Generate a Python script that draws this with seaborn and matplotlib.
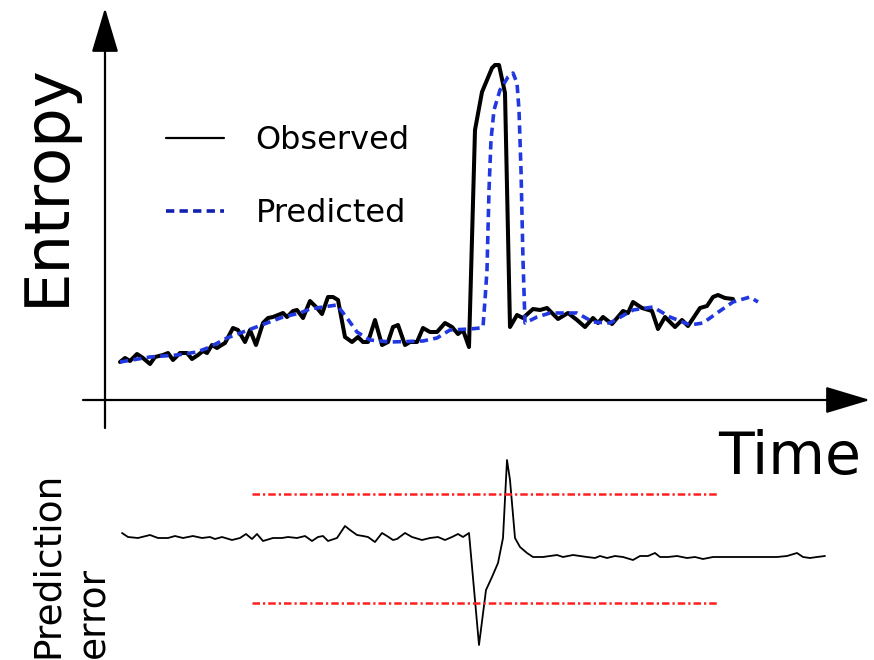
import matplotlib
matplotlib.use("Agg")
import matplotlib.pyplot as plt
import seaborn as sns

sns.set_style("white")
plt.rcParams["font.family"] = ["DejaVu Sans"]
plt.rcParams["text.color"] = "black"

# ---- data ----
# observed entropy
obs_t = [15, 20, 25, 32, 38, 45, 50, 58, 63, 68, 75, 82, 87, 93, 98, 102, 107, 112, 115, 120,
         128, 133, 140, 145, 151, 158, 163, 168, 173, 178, 182, 188, 192, 198, 205, 212, 217, 223, 228, 233,
         240, 247, 253, 258, 263, 270, 277, 283, 288, 293, 300, 305, 312, 318, 325, 332, 340, 347, 353, 358,
         364, 370, 377, 387, 390, 394, 400, 405, 412, 418, 428, 435, 442, 453, 463, 472, 480, 488, 493, 498,
         507, 518, 523, 528, 537, 547, 553, 560, 570, 577, 583, 595, 602, 608, 613, 620, 628]
obs_v = [0.38, 0.42, 0.39, 0.46, 0.42, 0.36, 0.43, 0.45, 0.47, 0.40, 0.47, 0.47, 0.41, 0.45, 0.49, 0.47, 0.55, 0.52, 0.54, 0.57,
         0.72, 0.70, 0.58, 0.70, 0.55, 0.77, 0.82, 0.83, 0.85, 0.87, 0.83, 0.89, 0.90, 0.82, 0.99, 0.92, 0.86, 1.03, 1.03, 1.00,
         0.63, 0.58, 0.63, 0.58, 0.58, 0.80, 0.55, 0.58, 0.73, 0.75, 0.55, 0.58, 0.58, 0.72, 0.68, 0.68, 0.77, 0.73, 0.66, 0.70,
         0.53, 2.70, 3.08, 3.32, 3.35, 3.35, 3.07, 0.73, 0.85, 0.82, 0.91, 0.90, 0.92, 0.81, 0.87, 0.80, 0.73, 0.82, 0.77, 0.83,
         0.76, 0.89, 0.87, 0.98, 0.92, 0.89, 0.71, 0.83, 0.73, 0.80, 0.74, 0.92, 0.94, 1.03, 1.05, 1.02, 1.01]

# predicted entropy
pred_t = [15, 45, 72, 92, 105, 122, 138, 162, 178, 195, 205, 218, 232, 242, 252, 265, 285, 318, 332, 345, 365, 375,
          378, 380, 382, 384, 386, 389, 395, 403, 408, 412, 414, 416, 418, 420,
          432, 445, 472, 488, 505, 528, 548, 565, 585, 598, 612, 628, 645, 653]
pred_v = [0.38, 0.43, 0.45, 0.48, 0.53, 0.62, 0.68, 0.77, 0.83, 0.87, 0.91, 0.93, 0.95, 0.82, 0.68, 0.60, 0.58, 0.59, 0.62, 0.70, 0.71, 0.72,
          0.73, 1.00, 1.30, 2.10, 2.60, 2.90, 3.10, 3.23, 3.27, 3.17, 2.90, 2.30, 1.40, 0.77,
          0.83, 0.87, 0.87, 0.78, 0.77, 0.90, 0.93, 0.83, 0.75, 0.77, 0.87, 0.98, 1.03, 0.98]

# prediction error
err_t = [17, 23, 33, 45, 53, 63, 70, 78, 88, 97, 105, 110, 117, 127, 135, 141, 147, 152, 158, 168,
         177, 183, 192, 200, 207, 213, 218, 223, 232, 240, 245, 252, 258, 263, 270, 277, 282, 288, 292, 300,
         307, 317, 325, 333, 340, 347, 353, 358, 364, 374, 381, 387, 393, 398, 402, 405, 410, 415, 422, 428,
         438, 452, 458, 468, 482, 490, 495, 502, 510, 518, 528, 535, 543, 550, 555, 563, 572, 582, 590, 598,
         608, 622, 642, 662, 672, 682, 692, 698, 705, 712, 720]
err_v = [0.15, 0.11, 0.10, 0.13, 0.10, 0.10, 0.12, 0.10, 0.12, 0.10, 0.11, 0.09, 0.11, 0.08, 0.10, 0.14, 0.09, 0.14, 0.07, 0.10,
         0.10, 0.11, 0.10, 0.12, 0.07, 0.11, 0.12, 0.07, 0.10, 0.22, 0.18, 0.13, 0.12, 0.11, 0.06, 0.15, 0.12, 0.08, 0.09, 0.15,
         0.11, 0.08, 0.10, 0.11, 0.08, 0.11, 0.14, 0.11, 0.15, -0.97, -0.42, -0.29, -0.15, 0.10, 0.88, 0.68, 0.10, 0.01, -0.05, -0.09,
         -0.09, -0.07, -0.09, -0.07, -0.09, -0.10, -0.08, -0.10, -0.08, -0.09, -0.12, -0.08, -0.08, -0.05, -0.09, -0.09, -0.08, -0.10, -0.09, -0.11,
         -0.09, -0.09, -0.09, -0.09, -0.09, -0.08, -0.05, -0.09, -0.10, -0.09, -0.08]

# error thresholds and the time span they cover
thresholds = [0.54, -0.55]
threshold_span = [147, 613]

labels = ["Observed", "Predicted"]

# ---- figure ----
W, H = 874, 660
fig = plt.figure(figsize=(W / 100, H / 100), dpi=100)
ax_top = fig.add_axes([83 / W, 232 / H, 787 / W, 420 / H])
ax_bot = fig.add_axes([83 / W, 0.0, 787 / W, 220 / H])

XLIM = (-22, 765)
TOP_YLIM = (-0.28, 3.92)
BOT_YLIM = (-1.12, 1.08)

blue = "#2138e0"

sns.lineplot(x=obs_t, y=obs_v, ax=ax_top, color="black", lw=2.9, sort=False,
             estimator=None, legend=False)
sns.lineplot(x=pred_t, y=pred_v, ax=ax_top, color=blue, lw=2.6, sort=False,
             estimator=None, legend=False, linestyle=(0, (2.3, 1.45)))

sns.lineplot(x=err_t, y=err_v, ax=ax_bot, color="black", lw=1.3, sort=False,
             estimator=None, legend=False)
ax_bot.hlines(thresholds, xmin=threshold_span[0], xmax=threshold_span[1],
              colors="#ff1f1f", lw=1.8, linestyles=[(0, (3.0, 1.2, 0.9, 1.2))])

for ax in (ax_top, ax_bot):
    ax.set_xlim(*XLIM)
    ax.set_axis_off()
ax_top.set_ylim(*TOP_YLIM)
ax_bot.set_ylim(*BOT_YLIM)

# axes drawn as arrows through the origin
arrow = dict(arrowstyle="-|>,head_length=1.4,head_width=0.42", mutation_scale=20,
             lw=1.6, color="black", shrinkA=0, shrinkB=0)
ax_top.annotate("", xy=(XLIM[1], 0), xytext=(XLIM[0], 0), arrowprops=arrow,
                annotation_clip=False)
ax_top.annotate("", xy=(0, TOP_YLIM[1]), xytext=(0, TOP_YLIM[0]), arrowprops=arrow,
                annotation_clip=False)

# legend
lines = ax_top.get_lines()
leg = ax_top.legend(handles=[lines[0], lines[1]], labels=labels, loc="center left",
                    bbox_to_anchor=(166 / W, 1 - 177 / H), bbox_transform=fig.transFigure,
                    frameon=False, fontsize=23, handlelength=1.8, handletextpad=1.0,
                    labelspacing=1.3, borderpad=0, borderaxespad=0)
leg.get_lines()[0].set_linewidth(1.6)
leg.get_lines()[1].set_linewidth(2.6)
leg.get_lines()[1].set_color("#1020b0")
for t in leg.get_texts():
    t.set_color("black")

# axis titles
fig.text(47 / W, 1 - 184.5 / H, "Entropy", rotation=90, ha="center", va="center",
         fontsize=45, color="black")
fig.text(718 / W, 1 - 474 / H, "Time", ha="left", va="baseline", fontsize=42,
         color="black")
fig.text(71 / W, 0.003, "Prediction\nerror", rotation=90, ha="center", va="bottom",
         multialignment="left", fontsize=27, linespacing=1.35, color="black")

fig.savefig("out.png", dpi=100)
